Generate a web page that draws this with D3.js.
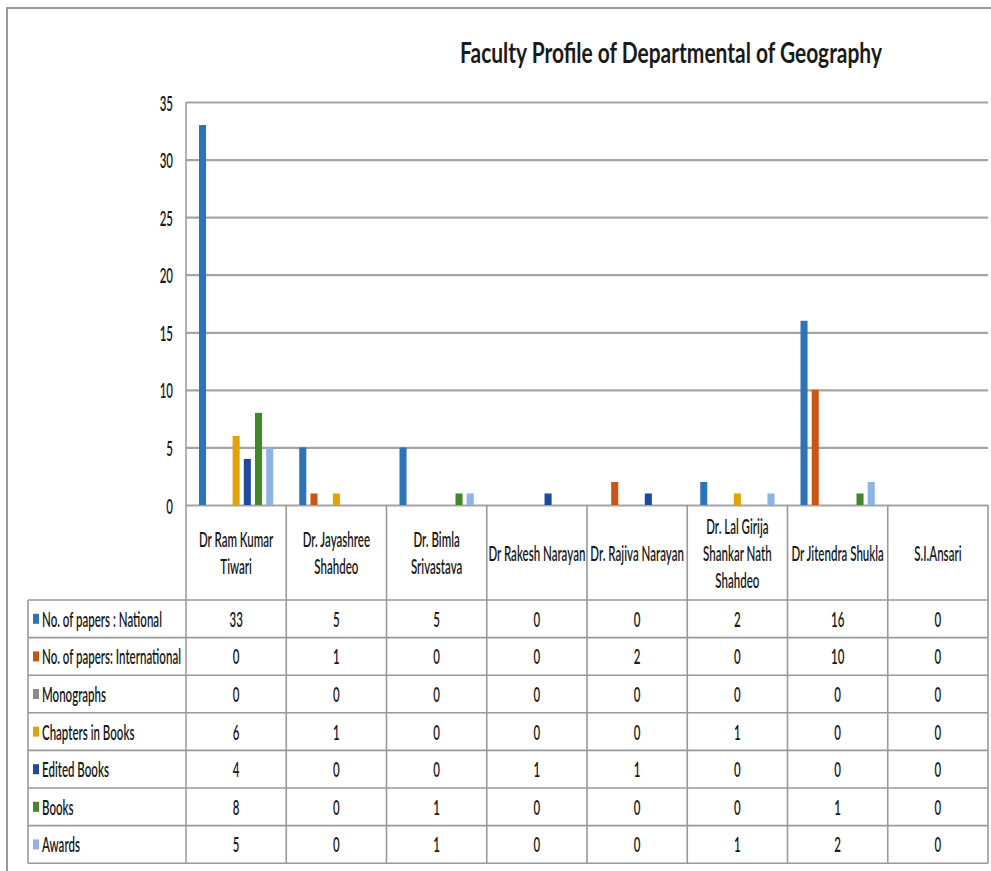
<!DOCTYPE html>
<html>
<head>
<meta charset="utf-8">
<script src="https://cdn.jsdelivr.net/npm/d3@7"></script>
<style>
  body { margin: 0; background: #fff; }
  text { font-family: Lato, "Open Sans", sans-serif; fill: #1a1a1a; }
</style>
</head>
<body>
<div id="chart"></div>
<script>
// data
var categories = ["Dr Ram Kumar Tiwari", "Dr. Jayashree Shahdeo", "Dr. Bimla Srivastava", "Dr Rakesh Narayan",
    "Dr. Rajiva Narayan", "Dr. Lal Girija Shankar Nath Shahdeo", "Dr Jitendra Shukla", "S.I.Ansari"];
var headerLines = [["Dr Ram Kumar", "Tiwari"], ["Dr. Jayashree", "Shahdeo"], ["Dr. Bimla", "Srivastava"], ["Dr Rakesh Narayan"],
    ["Dr. Rajiva Narayan"], ["Dr. Lal Girija", "Shankar Nath", "Shahdeo"], ["Dr Jitendra Shukla"], ["S.I.Ansari"]];
var seriesNames = ["No. of papers : National", "No. of papers: International", "Monographs", "Chapters in Books",
    "Edited Books", "Books", "Awards"];
var seriesColors = ["#2e72b8", "#c85614", "#8a8a8a", "#e3a20c", "#1d4a9c", "#43872a", "#8db4e2"];
var national      = [33, 5, 5, 0, 0, 2, 16, 0];
var international = [0, 1, 0, 0, 2, 0, 10, 0];
var monographs    = [0, 0, 0, 0, 0, 0, 0, 0];
var chapters      = [6, 1, 0, 0, 0, 1, 0, 0];
var edited        = [4, 0, 0, 1, 1, 0, 0, 0];
var books         = [8, 0, 1, 0, 0, 0, 1, 0];
var awards        = [5, 0, 1, 0, 0, 1, 2, 0];
var yTicks = [0, 5, 10, 15, 20, 25, 30, 35];
var title = "Faculty Profile of Departmental of Geography";

var seriesValues = [national, international, monographs, chapters, edited, books, awards];

var width = 991, height = 871;
var plotLeft = 186, plotRight = 988, plotTop = 102, plotBottom = 505;
var tableLeft = 28, headerBottom = 600, rowH = 37.6;
var tableBottom = headerBottom + rowH * seriesNames.length;
var fontSize = 21;
var fontWeight = 600;
var gridColor = "#a4a4a4";
var tableColor = "#999";

var svg = d3.select('#chart').append('svg')
    .attr('width', width)
    .attr('height', height);

svg.append('rect').attr('width', width).attr('height', height).attr('fill', '#fff');

// outer frame of the chart (runs off the right and bottom edges)
svg.append('rect')
    .attr('x', 7).attr('y', 8)
    .attr('width', width).attr('height', height)
    .attr('fill', 'none')
    .attr('stroke', '#999')
    .attr('stroke-width', 2);

// the picture is horizontally squashed, so measure the font and compress to match
function measure(str, size, weight) {
    var t = svg.append('text').attr('font-size', size).attr('font-weight', weight).text(str);
    var w = t.node().getComputedTextLength();
    t.remove();
    return w;
}
var sx = 120 / measure(seriesNames[0], fontSize, fontWeight);
var titleSx = 422 / measure(title, 28, 'bold');

function label(parent, x, y, str, anchor, s) {
    parent.append('text')
        .attr('transform', 'translate(' + x + ',' + y + ') scale(' + s + ',1)')
        .attr('text-anchor', anchor)
        .attr('dominant-baseline', 'central')
        .attr('font-size', fontSize)
        .attr('font-weight', fontWeight)
        .text(str);
}

// title
svg.append('text')
    .attr('transform', 'translate(671,63) scale(' + titleSx + ',1)')
    .attr('text-anchor', 'middle')
    .attr('font-size', 28)
    .attr('font-weight', 'bold')
    .text(title);

var x0 = d3.scaleBand().domain(categories).range([plotLeft, plotRight]).padding(0);
var x1 = d3.scaleBand().domain(seriesNames).range([0, x0.bandwidth()])
    .paddingInner(0.37).paddingOuter(1.16);
var yScale = d3.scaleLinear().domain([0, 35]).range([plotBottom, plotTop]);

// gridlines + tick labels
var yAxis = d3.axisLeft(yScale)
    .tickValues(yTicks)
    .tickSize(-(plotRight - plotLeft))
    .tickPadding(13);
var yAxisG = svg.append('g')
    .attr('transform', 'translate(' + plotLeft + ',0)')
    .call(yAxis);
yAxisG.select('.domain').remove();
yAxisG.selectAll('.tick line')
    .attr('stroke', gridColor)
    .attr('stroke-width', 2.2);
yAxisG.selectAll('.tick text')
    .attr('x', -13 / sx)
    .attr('dy', null)
    .attr('dominant-baseline', 'central')
    .attr('transform', 'scale(' + sx + ',1)')
    .attr('font-family', null)
    .attr('font-size', fontSize)
    .attr('font-weight', fontWeight)
    .attr('fill', '#1a1a1a');

// bars
var groups = svg.selectAll('.group')
    .data(categories)
    .enter().append('g')
    .attr('class', 'group')
    .attr('transform', function (d) { return 'translate(' + x0(d) + ',0)'; });

groups.selectAll('rect')
    .data(function (d, ci) {
        return seriesNames.map(function (s, si) {
            return { series: s, color: seriesColors[si], value: seriesValues[si][ci] };
        });
    })
    .enter().append('rect')
    .attr('x', function (d) { return x1(d.series); })
    .attr('y', function (d) { return yScale(d.value); })
    .attr('width', x1.bandwidth())
    .attr('height', function (d) { return yScale(0) - yScale(d.value); })
    .attr('fill', function (d) { return d.color; });

// y axis line
svg.append('line')
    .attr('x1', plotLeft).attr('x2', plotLeft)
    .attr('y1', plotTop).attr('y2', tableBottom)
    .attr('stroke', tableColor).attr('stroke-width', 1.5);

// data table
var table = svg.append('g');
var rowY = d3.range(seriesNames.length + 1).map(function (i) { return headerBottom + i * rowH; });

table.selectAll('.hline')
    .data(rowY)
    .enter().append('line')
    .attr('x1', tableLeft).attr('x2', plotRight)
    .attr('y1', function (d) { return d; }).attr('y2', function (d) { return d; })
    .attr('stroke', tableColor).attr('stroke-width', 1.6);

table.append('line')
    .attr('x1', tableLeft).attr('x2', tableLeft)
    .attr('y1', headerBottom).attr('y2', tableBottom)
    .attr('stroke', tableColor).attr('stroke-width', 1.6);

table.selectAll('.vline')
    .data(categories)
    .enter().append('line')
    .attr('x1', function (d) { return x0(d) + x0.bandwidth(); })
    .attr('x2', function (d) { return x0(d) + x0.bandwidth(); })
    .attr('y1', plotBottom).attr('y2', tableBottom)
    .attr('stroke', tableColor).attr('stroke-width', 1.6);

// header (category names)
var lineGap = 27;
categories.forEach(function (c, ci) {
    var lines = headerLines[ci];
    var cx = x0(c) + x0.bandwidth() / 2;
    var cy = (plotBottom + headerBottom) / 2;
    lines.forEach(function (ln, li) {
        label(table, cx, cy + (li - (lines.length - 1) / 2) * lineGap, ln, 'middle', sx);
    });
});

// rows: legend key + values
seriesNames.forEach(function (s, si) {
    var cy = rowY[si] + rowH / 2;
    table.append('rect')
        .attr('x', 33).attr('y', cy - 5)
        .attr('width', 6).attr('height', 10)
        .attr('fill', seriesColors[si]);
    label(table, 42, cy, s, 'start', sx);
    categories.forEach(function (c, ci) {
        label(table, x0(c) + x0.bandwidth() / 2, cy, seriesValues[si][ci], 'middle', sx);
    });
});
</script>
</body>
</html>
